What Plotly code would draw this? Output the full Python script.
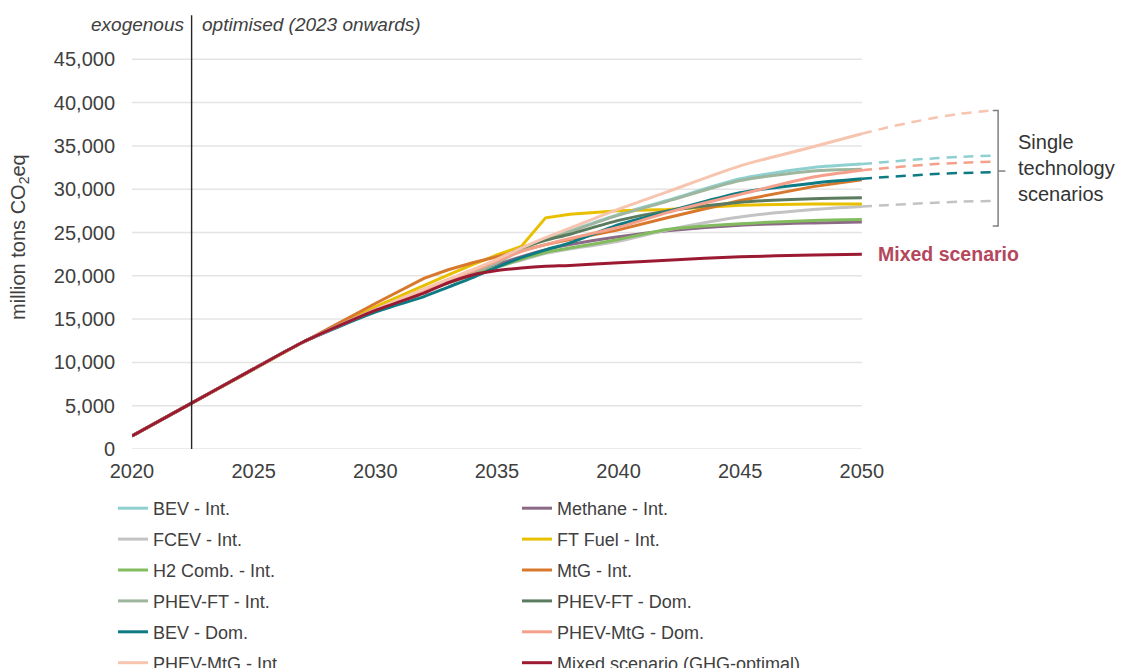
import plotly.graph_objects as go

# ---------------- data ----------------
years = [2020, 2022, 2025, 2027, 2030, 2032, 2033, 2034, 2035, 2036, 2037, 2038, 2040, 2042, 2045, 2048, 2050]
start = [1500, 4600, 9250, 12300]

bev_int      = start + [16100, 18300, 19400, 20400, 21500, 23000, 24300, 25200, 27100, 28700, 31200, 32500, 32900]
methane_int  = start + [16100, 18200, 19300, 20300, 21300, 22200, 23000, 23600, 24500, 25200, 25850, 26100, 26200]
fcev_int     = start + [16000, 18200, 19200, 20100, 21000, 21800, 22600, 23100, 24000, 25300, 26800, 27650, 28000]
ft_fuel_int  = start + [16400, 18900, 20100, 21300, 22400, 23400, 26700, 27100, 27500, 27650, 28150, 28300, 28300]
h2_comb_int  = start + [16000, 18200, 19200, 20100, 21000, 21900, 22700, 23200, 24200, 25350, 26000, 26400, 26500]
mtg_int      = start + [16800, 19700, 20700, 21500, 22200, 22900, 23600, 24200, 25300, 26700, 28700, 30300, 31100]
phev_ft_int  = start + [16100, 18300, 19400, 20400, 21500, 23000, 24200, 25100, 27000, 28600, 31000, 32100, 32300]
phev_ft_dom  = start + [16100, 18300, 19400, 20500, 21800, 23200, 24100, 24800, 26400, 27500, 28500, 28900, 29000]
bev_dom      = start + [15800, 17600, 18700, 19800, 21000, 22100, 23000, 23800, 25900, 27400, 29600, 30700, 31200]
phev_mtg_dom = start + [16100, 18300, 19400, 20500, 21700, 22800, 23600, 24300, 25600, 27300, 29400, 31400, 32200]
phev_mtg_int = start + [16100, 18500, 19600, 20700, 21900, 23200, 24400, 25500, 27700, 29700, 32700, 34900, 36400]
mixed        = start + [16000, 18000, 19200, 20100, 20600, 20900, 21100, 21200, 21500, 21800, 22200, 22400, 22500]

ext_years = [2050, 2051, 2052, 2053, 2054, 2055.3]
ext_phev_mtg_int = [36400, 37100, 37700, 38250, 38700, 39100]
ext_bev_int      = [32900, 33150, 33380, 33570, 33730, 33870]
ext_phev_mtg_dom = [32200, 32450, 32700, 32900, 33050, 33180]
ext_bev_dom      = [31200, 31400, 31580, 31750, 31870, 31950]
ext_fcev_int     = [28000, 28150, 28300, 28440, 28560, 28640]

x_ticks = [2020, 2025, 2030, 2035, 2040, 2045, 2050]
y_ticks = [0, 5000, 10000, 15000, 20000, 25000, 30000, 35000, 40000, 45000]
split_year = 2022.45
x_range = [2020, 2056.5]
y_range = [0, 47000]
bracket_x = 2055.6
bracket_top, bracket_bottom, bracket_mid = 39100, 25750, 32100

# ---------------- styling ----------------
FONT = "Liberation Sans, Arial, sans-serif"
TXT = "#404040"

series = [
    # name, values, color, legend, shape
    ("BEV - Int.", bev_int, "#8ED0D0", "legend", "spline"),
    ("Methane - Int.", methane_int, "#8C6A86", "legend2", "spline"),
    ("FCEV - Int.", fcev_int, "#C3C3C3", "legend", "spline"),
    ("FT Fuel - Int.", ft_fuel_int, "#E9C000", "legend2", "linear"),
    ("H2 Comb. - Int.", h2_comb_int, "#82BC5E", "legend", "spline"),
    ("MtG - Int.", mtg_int, "#D8782C", "legend2", "linear"),
    ("PHEV-FT - Int.", phev_ft_int, "#9EB69E", "legend", "spline"),
    ("PHEV-FT - Dom.", phev_ft_dom, "#5B7B5E", "legend2", "spline"),
    ("BEV - Dom.", bev_dom, "#0E7A84", "legend", "spline"),
    ("PHEV-MtG - Dom.", phev_mtg_dom, "#F4A08A", "legend2", "spline"),
    ("PHEV-MtG - Int.", phev_mtg_int, "#F6C4AF", "legend", "spline"),
    ("Mixed scenario (GHG-optimal)", mixed, "#9C1A31", "legend2", "spline"),
]
colors = {s[0]: s[2] for s in series}

extensions = [
    ("FCEV - Int.", ext_fcev_int),
    ("BEV - Dom.", ext_bev_dom),
    ("PHEV-MtG - Dom.", ext_phev_mtg_dom),
    ("BEV - Int.", ext_bev_int),
    ("PHEV-MtG - Int.", ext_phev_mtg_int),
]

fig = go.Figure()

for name, vals in extensions:
    fig.add_trace(go.Scatter(
        x=ext_years, y=vals, mode="lines", showlegend=False, hoverinfo="skip",
        line=dict(color=colors[name], width=2.5, dash="10px,7px", shape="spline", smoothing=0.6),
    ))

for name, vals, color, leg, shape in series:
    line = dict(color=color, width=3, shape=shape)
    if shape == "spline":
        line["smoothing"] = 0.7
    fig.add_trace(go.Scatter(
        x=years, y=vals, mode="lines", name=name, legend=leg, legendgroup=name, line=line,
    ))

# gridlines (only up to 2050)
shapes = []
for v in y_ticks:
    shapes.append(dict(type="line", xref="x", yref="y", x0=x_ticks[0], x1=x_ticks[-1],
                       y0=v, y1=v, line=dict(color="#E4E4E4", width=1.5), layer="below"))
# exogenous / optimised divider
px = (split_year - x_range[0]) / (x_range[1] - x_range[0])
shapes.append(dict(type="line", xref="paper", yref="paper", x0=px, x1=px, y0=0, y1=1.066,
                   line=dict(color="#262626", width=1.4)))
# bracket
shapes.append(dict(type="path", xref="x", yref="y",
                   path=f"M {bracket_x-0.22},{bracket_top} L {bracket_x},{bracket_top} "
                        f"L {bracket_x},{bracket_bottom} L {bracket_x-0.22},{bracket_bottom}",
                   line=dict(color="#7F7F7F", width=1.5)))
shapes.append(dict(type="line", xref="x", yref="y", x0=bracket_x, x1=bracket_x + 0.3,
                   y0=bracket_mid, y1=bracket_mid, line=dict(color="#7F7F7F", width=1.5)))

annotations = [
    dict(text="<i>exogenous</i>", xref="paper", yref="paper", x=px, y=1.0418,
         xanchor="right", yanchor="middle", xshift=-6, showarrow=False,
         font=dict(family=FONT, size=19, color=TXT)),
    dict(text="<i>optimised (2023 onwards)</i>", xref="paper", yref="paper", x=px, y=1.0418,
         xanchor="left", yanchor="middle", xshift=8, showarrow=False,
         font=dict(family=FONT, size=19, color=TXT)),
    dict(text="million tons CO<sub>2</sub>eq", xref="paper", yref="paper", x=(20 - 132) / 888,
         y=0.521, xanchor="center", yanchor="middle", textangle=-90, showarrow=False,
         font=dict(family=FONT, size=20, color=TXT)),
    dict(text="Single<br>technology<br>scenarios", xref="paper", yref="paper", x=0.996, y=0.6904,
         xanchor="left", yanchor="middle", align="left", showarrow=False,
         font=dict(family=FONT, size=20, color="#333333")),
    dict(text="<b>Mixed scenario</b>", xref="x", yref="y", x=years[-1], y=mixed[-1],
         xanchor="left", yanchor="middle", xshift=14, showarrow=False,
         font=dict(family=FONT, size=19.5, color="#B4475C")),
]

legend_common = dict(
    orientation="v", xanchor="left", yanchor="top", traceorder="grouped", tracegroupgap=4.5,
    bgcolor="rgba(0,0,0,0)", font=dict(family=FONT, size=18, color=TXT),
)

fig.update_layout(
    width=1124, height=668,
    margin=dict(l=132, r=104, t=42, b=219, autoexpand=False),
    paper_bgcolor="white", plot_bgcolor="white",
    font=dict(family=FONT, color=TXT),
    xaxis=dict(range=x_range, tickvals=x_ticks, ticktext=[str(t) for t in x_ticks],
               showgrid=False, zeroline=False, showline=False, ticks="",
               ticklabelstandoff=8, tickfont=dict(family=FONT, size=20, color=TXT)),
    yaxis=dict(range=y_range, tickvals=y_ticks, tickformat=",", showgrid=False,
               zeroline=False, showline=False, ticks="", ticklabelstandoff=16,
               tickfont=dict(family=FONT, size=20, color=TXT)),
    legend=dict(x=(113 - 132) / 888, y=(449 - 490) / 407, **legend_common),
    legend2=dict(x=(517 - 132) / 888, y=(449 - 490) / 407, **legend_common),
    shapes=shapes, annotations=annotations,
    showlegend=True,
)

fig.write_html("out.html")
